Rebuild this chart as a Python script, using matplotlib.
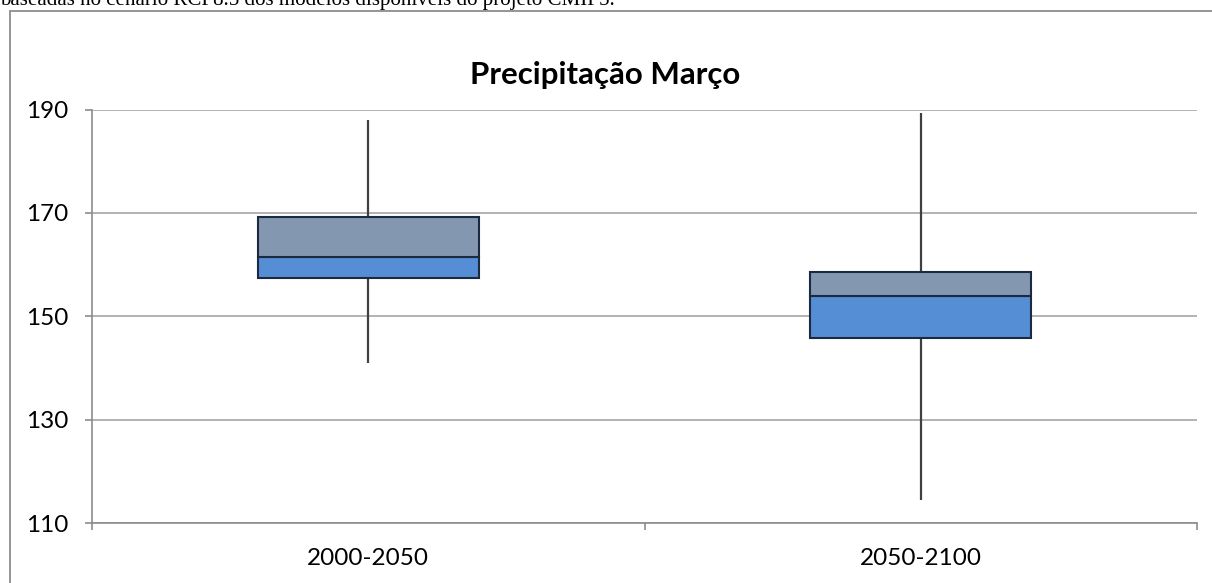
import matplotlib
matplotlib.use("Agg")
import matplotlib.pyplot as plt
from matplotlib.patches import Rectangle

# Box-plot statistics of March precipitation per period
periods = ["2000-2050", "2050-2100"]
whisker_low = [140.9, 114.6]
q1 = [157.5, 145.8]
median = [161.5, 154.0]
q3 = [169.2, 158.5]
whisker_high = [188.0, 189.3]
y_ticks = [110, 130, 150, 170, 190]

W, H = 1212, 583
fig = plt.figure(figsize=(W / 100, H / 100), dpi=100)
fig.patch.set_facecolor("white")

# Caption line from the surrounding document, partly cut at the top
fig.text(0.0 / W, 1 - 4.5 / H,
         "baseadas no cenário RCP8.5 dos modelos disponíveis do projeto CMIP5.",
         family="Liberation Serif", fontsize=15.1, color="black",
         ha="left", va="baseline")

# Chart frame
fig.patches.append(Rectangle((9.5 / W, -0.05), 1.2, 1 - 10.5 / H + 0.05,
                             transform=fig.transFigure, fill=False,
                             edgecolor="#8C8C8C", linewidth=1.3, zorder=0))

left, right = 92 / W, 1197 / W
bottom, top = 1 - 523.3 / H, 1 - 109.5 / H
ax = fig.add_axes([left, bottom, right - left, top - bottom])
ax.set_facecolor("none")

x = list(range(len(periods)))
width = 0.4
edge = "#1C2A40"

ax.vlines(x, whisker_low, q1, color="#404040", linewidth=1.6, zorder=2)
ax.vlines(x, q3, whisker_high, color="#404040", linewidth=1.6, zorder=2)
ax.bar(x, [m - a for m, a in zip(median, q1)], bottom=q1, width=width,
       color="#558ED5", edgecolor=edge, linewidth=1.5, zorder=3)
ax.bar(x, [b - m for b, m in zip(q3, median)], bottom=median, width=width,
       color="#8497B0", edgecolor=edge, linewidth=1.5, zorder=3)

ax.set_xlim(-0.5, len(periods) - 0.5)
ax.set_ylim(110, 190)
ax.set_yticks(y_ticks)
ax.set_yticklabels([str(t) for t in y_ticks], family="Lato", fontsize=17.5)
ax.yaxis.grid(True, color="#A6A6A6", linewidth=1.2)
ax.set_axisbelow(True)

ax.set_xticks(x)
ax.set_xticklabels(periods, family="Lato", fontsize=17.5)
ax.set_xticks([i - 0.5 for i in range(len(periods) + 1)], minor=True)
ax.tick_params(axis="x", which="major", length=0, pad=18)
ax.tick_params(axis="x", which="minor", length=5, color="#8C8C8C", width=1.2)
ax.tick_params(axis="y", length=5, color="#8C8C8C", width=1.2, pad=12)

for side in ("top", "right"):
    ax.spines[side].set_visible(False)
for side in ("left", "bottom"):
    ax.spines[side].set_color("#8C8C8C")
    ax.spines[side].set_linewidth(1.2)

fig.text(605 / W, 1 - 75 / H, "Precipitação Março",
         family="Lato", fontweight="bold", fontsize=22.5, ha="center",
         va="center", color="black")

fig.savefig("out.png", dpi=100)
